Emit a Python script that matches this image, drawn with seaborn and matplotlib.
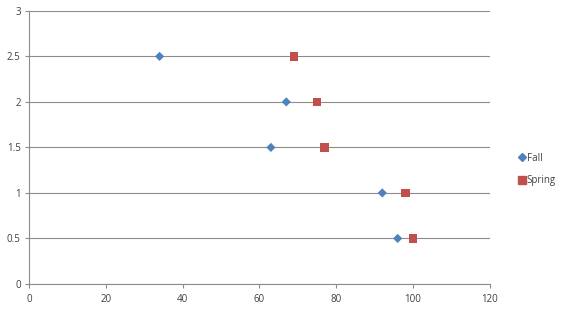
import matplotlib
matplotlib.use("Agg")
import matplotlib.pyplot as plt
import seaborn as sns
import pandas as pd
from matplotlib.lines import Line2D

series_names = ["Fall", "Spring"]
fall_x = [34, 67, 63, 92, 96]
fall_y = [2.5, 2, 1.5, 1, 0.5]
spring_x = [69, 75, 77, 98, 100]
spring_y = [2.5, 2, 1.5, 1, 0.5]
x_ticks = [0, 20, 40, 60, 80, 100, 120]
y_ticks = [0, 0.5, 1, 1.5, 2, 2.5, 3]
y_tick_labels = ["0", "0.5", "1", "1.5", "2", "2.5", "3"]

df = pd.DataFrame({
    "x": fall_x + spring_x,
    "y": fall_y + spring_y,
    "season": [series_names[0]] * len(fall_x) + [series_names[1]] * len(spring_x),
})

sns.set_style("white")
plt.rcParams["font.family"] = ["Open Sans", "DejaVu Sans"]

fig = plt.figure(figsize=(5.63, 3.11), dpi=100)
ax = fig.add_axes([0.0515, 0.087, 0.8185, 0.878])

sns.scatterplot(data=df, x="x", y="y", hue="season", style="season",
                palette={"Fall": "#4F81BD", "Spring": "#C0504D"},
                markers={"Fall": "D", "Spring": "s"},
                ax=ax, legend=False, linewidth=0, zorder=3)
colls = ax.collections
if len(colls) == 1:
    sizes = [22 if s == "Fall" else 40 for s in df["season"]]
    colls[0].set_sizes(sizes)

ax.set_xlim(0, 120)
ax.set_ylim(0, 3)
ax.set_xticks(x_ticks)
ax.set_yticks(y_ticks)
ax.set_yticklabels(y_tick_labels)
ax.set_xlabel("")
ax.set_ylabel("")
ax.yaxis.grid(True, color="#8c8c8c", linewidth=0.8)
ax.set_axisbelow(True)
for side in ["top", "right"]:
    ax.spines[side].set_visible(False)
for side in ["left", "bottom"]:
    ax.spines[side].set_color("#8c8c8c")
    ax.spines[side].set_linewidth(0.8)
ax.tick_params(axis="both", which="both", length=3, width=0.8, color="#8c8c8c",
               labelsize=7, labelcolor="#404040", direction="out",
               bottom=True, left=True)
ax.tick_params(axis="x", pad=4)
ax.tick_params(axis="y", pad=3)

handles = [
    Line2D([], [], marker="D", linestyle="none", color="#4F81BD", markersize=4.5),
    Line2D([], [], marker="s", linestyle="none", color="#C0504D", markersize=6),
]
fig.legend(handles, series_names, loc="center left", bbox_to_anchor=(0.903, 0.455),
           frameon=False, fontsize=7, handletextpad=0.0, labelspacing=1.2,
           handlelength=1.0, labelcolor="#404040")

fig.savefig("out.png", dpi=100)
